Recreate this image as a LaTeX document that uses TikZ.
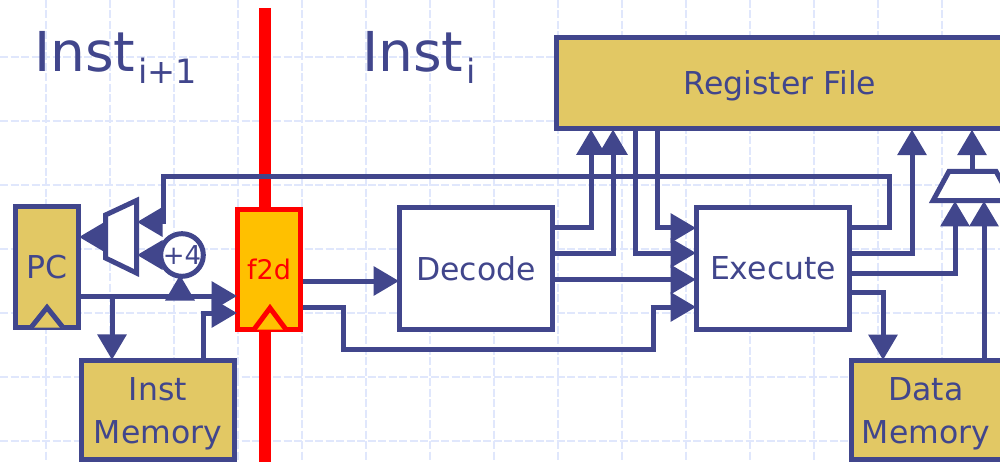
\documentclass[tikz,border=0pt]{standalone}
\usepackage{fontspec}
\setmainfont{DejaVu Sans}
\usetikzlibrary{arrows.meta,calc}
\definecolor{navy}{HTML}{41468C}
\definecolor{gold}{HTML}{E2C864}
\definecolor{amber}{HTML}{FFC000}
\definecolor{gridc}{HTML}{E0E7FC}
\newcommand{\sz}[1]{\fontsize{#1}{#1}\selectfont}
\tikzset{
  gridline/.style={draw=gridc,line width=1.2pt,dash pattern=on 8pt off 2.5pt},
  box/.style={draw=navy,line width=5pt,rectangle,inner sep=0pt,text=navy,align=center,font=\sz{31.5}},
  goldbox/.style={box,fill=gold},
  wire/.style={draw=navy,line width=5pt,line cap=butt,line join=miter},
  arw/.style={wire,-{Triangle[length=25.5pt,width=28.5pt]},shorten >=-2pt},
  clockmark/.style={line width=5pt,line join=miter},
  label/.style={text=navy,anchor=base west,inner sep=0pt},
  boxtext/.style={text=navy,align=center,inner sep=0pt,font=\sz{31.5}}
}
\begin{document}
\begin{tikzpicture}[x=1pt,y=-1pt]
\useasboundingbox (0,0) rectangle (1000,462);
\clip (0,0) rectangle (1000,462);
\fill[white] (0,0) rectangle (1000,462);
% grid
\foreach \gx in {46,110,...,1000} \draw[gridline] (\gx,0) -- (\gx,462);
\foreach \gy in {57,121,...,462} \draw[gridline] (0,\gy) -- (1000,\gy);
% pipeline bar
\coordinate (barT) at (265,8);
\coordinate (barB) at (265,462);
\draw[red,line width=12.5pt] (barT) -- (barB);
% labels
\node[label] (instA) at (34,72) {\sz{55}Inst\kern2.5pt\raisebox{-12pt}{\sz{33.5}i+1}};
\node[label] (instB) at (362,72) {\sz{55}Inst\kern2.5pt\raisebox{-12pt}{\sz{33.5}i}};
% boxes
\node[goldbox,minimum width=474pt,minimum height=91pt] (rf) at (793,83.5) {};
\node[boxtext,yshift=-2.5pt] (rfl) at (780,83.5) {Register File};
\node[goldbox,minimum width=63pt,minimum height=121pt] (pc) at (47,267) {PC};
\node[goldbox,minimum width=153pt,minimum height=99.4pt] (im) at (158,410) {};
\node[boxtext] (iml) at (158,414) {Inst\\[11pt]Memory};
\node[goldbox,minimum width=170pt,minimum height=99.4pt] (dm) at (936,410) {};
\node[boxtext] (dml) at (926,414) {Data\\[11pt]Memory};
\node[box,fill=white,minimum width=153pt,minimum height=121pt] (dec) at (476,268.5) {Decode};
\node[box,fill=white,minimum width=153pt,minimum height=121pt] (ex) at (773,268.5) {Execute};
\node[box,draw=red,text=red,fill=amber,minimum width=63pt,minimum height=120pt,font=\sz{27}] (f2d) at (269,269.5) {f2d};
\node[box,circle,fill=white,minimum size=36pt,font=\sz{26}] (inc) at (182,255) {+4};
% muxes
\draw[navy,fill=white,line width=5pt,line join=miter] (105.5,215) -- (136.5,200.5) -- (136.5,273) -- (105.5,258) -- cycle;
\draw[navy,fill=white,line width=5pt,line join=miter] (949,171.3) -- (996,171.3) -- (1012,200.7) -- (933,200.7) -- cycle;
\coordinate (mlOut) at (105,237);
\coordinate (mlA) at (139,222);
\coordinate (mlB) at (139,255);
\coordinate (mrTop) at (972,170);
\coordinate (mrA) at (955,203);
\coordinate (mrB) at (984,203);
% clock marks
\draw[navy,fill=gold,clockmark] (31,327.5) -- (47,307.5) -- (63,327.5);
\draw[red,fill=amber,clockmark] (254,329.5) -- (270,308) -- (286,329.5);
% PC connectors
\draw[arw] (mlOut) -- (pc.east |- mlOut);
\draw[arw] (pc.east |- 0,296) -- (f2d.west |- 0,296);
\coordinate (jIm) at (112,296);
\draw[arw] (jIm) -- (jIm |- im.north);
\draw[arw] (inc.west) -- (mlB);
\coordinate (jInc) at (180,296);
\draw[arw] (jInc) -- (180,277);
\draw[wire] (203,358) -- (203,313);
\draw[arw] (200.5,313) -- (f2d.west |- 0,313);
% f2d outputs
\draw[arw] (f2d.east |- 0,281) -- (dec.west |- 0,281);
\draw[wire] (f2d.east |- 0,307) -- (343,307) -- (343,349.5) -- (653,349.5) -- (653,307) -- (670,307);
\draw[arw] (650.5,307) -- (ex.west |- 0,307);
% decode outputs
\draw[arw] (dec.east |- 0,228) -| (rf.south -| 591,0);
\draw[arw] (dec.east |- 0,253) -| (rf.south -| 613,0);
\draw[arw] (dec.east |- 0,279.5) -- (ex.west |- 0,279.5);
% register file outputs
\coordinate (rfa) at (635,129);
\coordinate (rfb) at (657,129);
\draw[arw] (rfa) |- (ex.west |- 0,253);
\draw[arw] (rfb) |- (ex.west |- 0,228);
% execute outputs
\coordinate (rfc) at (912,131.7);
\coordinate (rfd) at (972,131.7);
\draw[arw] (ex.east |- 0,228) -- (889,228) -- (889,176.5) -- (163,176.5) -- (163,222) -- (mlA);
\draw[arw] (ex.east |- 0,253) -| (rfc);
\draw[arw] (ex.east |- 0,273) -| (mrA);
\draw[arw] (ex.east |- 0,292) -| (883,358);
\draw[arw] (mrTop) -- (rfd);
\draw[arw] (984,358) -- (mrB);
\end{tikzpicture}
\end{document}
